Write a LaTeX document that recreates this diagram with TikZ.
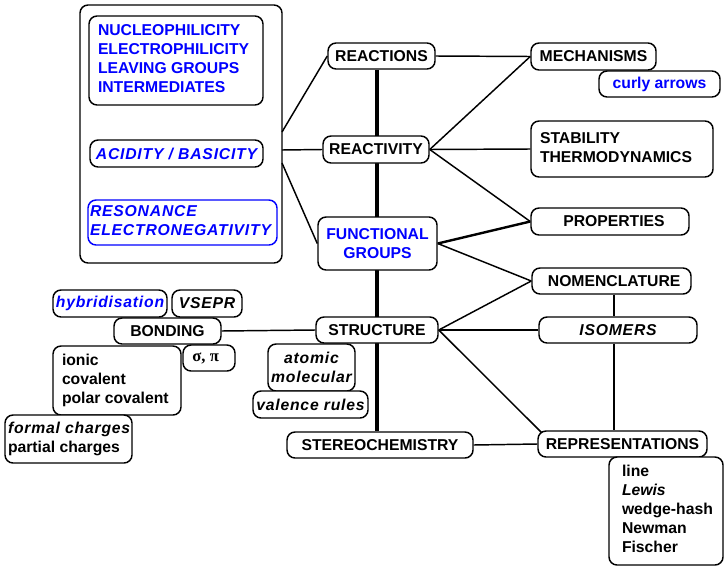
\documentclass[tikz,border=0pt]{standalone}
\usepackage{fontspec}
\setmainfont{Liberation Sans}
\newfontfamily\serifsym{Liberation Serif}
\usetikzlibrary{backgrounds,calc}
\newcommand{\lbox}[2]{\makebox[#1][l]{\begin{tabular}[c]{@{}l@{}}#2\end{tabular}}}
\begin{document}
\begin{tikzpicture}[x=0.75pt,y=-0.75pt,
  every node/.style={font=\fontsize{11.8}{14.3}\selectfont\bfseries},
  bx/.style 2 args={draw, line width=1.1pt, rounded corners=6pt, fill=white,
    minimum width=#1pt, minimum height=#2pt, inner sep=0pt},
  it/.style={font=\fontsize{11.8}{14.3}\selectfont\bfseries\itshape\addfontfeature{LetterSpace=5}},
  bl/.style={text=blue},
  conn/.style={line width=1.1pt},
  spinestyle/.style={line width=3.2pt}]
\useasboundingbox (0,0) rectangle (728,571);

% left group
\node[bx={151.5}{193.5}] (big) at (181,134) {};
\node[bx={130.5}{66.75}, inner xsep=6.75pt, bl] (nuc) at (176,60.5)
  {\lbox{117pt}{NUCLEOPHILICITY\\ELECTROPHILICITY\\LEAVING GROUPS\\INTERMEDIATES}};
\node[bx={129.75}{20.25}, it, bl] (acid) at (176.5,153.5) {ACIDITY / BASICITY};
\node[bx={141.75}{33.75}, draw=blue, inner xsep=1.5pt, it, bl] (reson) at (182.5,222.5)
  {\lbox{138.75pt}{RESONANCE\\ELECTRONEGATIVITY}};

% spine nodes
\node[bx={80.25}{19.5}] (reactions) at (381.5,56) {REACTIONS};
\node[bx={79.5}{20.25}] (reactivity) at (376,149.5) {REACTIVITY};
\node[bx={89.25}{39.75}, align=center, bl] (func) at (377.5,243.5) {FUNCTIONAL\\GROUPS};
\node[bx={91.5}{19.5}] (structure) at (377,330) {STRUCTURE};
\node[bx={139.5}{19.5}] (stereo) at (380,445) {STEREOCHEMISTRY};

% right nodes
\node[bx={93.75}{20.25}] (mech) at (593.5,56.5) {MECHANISMS};
\node[bx={90.75}{19.5}, bl] (curly) at (659.5,84) {curly arrows};
\node[bx={136.5}{42}, inner xsep=6.75pt] (stab) at (622,149)
  {\lbox{123pt}{STABILITY\\THERMODYNAMICS}};
\node[bx={118.5}{20.25}] (prop) at (610,221.5) {\hspace*{6pt}PROPERTIES};
\node[bx={119.25}{19.5}] (nomen) at (611.5,281) {\hspace*{4pt}NOMENCLATURE};
\node[bx={118.5}{19.5}, it] (isomers) at (618,330) {ISOMERS};
\node[bx={126.75}{19.5}] (rep) at (622.5,444) {REPRESENTATIONS};
\node[bx={85.5}{81}, inner xsep=9.75pt] (repbox) at (666,511)
  {\lbox{66pt}{line\\{\itshape Lewis}\\wedge-hash\\Newman\\Fischer}};

% lower left nodes
\node[bx={85.5}{20.25}, it, bl] (hybrid) at (110,303.5) {hybridisation};
\node[bx={52.5}{20.25}, it] (vsepr) at (207,303.5) {VSEPR};
\node[bx={80.25}{19.5}] (bonding) at (167.5,331) {BONDING};
\node[bx={39}{19.5}] (sigma) at (209,358) {\serifsym\bfseries\fontsize{12.5}{14}\selectfont σ, π\hspace*{5pt}};
\node[bx={96}{51.75}, inner xsep=6.75pt] (ionic) at (117,380.5)
  {\lbox{82.5pt}{ionic\\covalent\\polar covalent}};
\node[bx={95.25}{36}, inner xsep=2.25pt] (formal) at (68.5,439)
  {\lbox{90.75pt}{{\itshape\addfontfeature{LetterSpace=5}formal charges}\\partial charges}};
\node[bx={65.25}{35.25}, align=center, it] (atomic) at (311.5,367.5) {atomic\\molecular};
\node[bx={86.25}{20.25}, it] (valence) at (310.5,404.5) {valence rules};

% helper coordinates
\coordinate (spine) at (377,0);
\coordinate (vx) at (614,0);
\coordinate (b1) at (282,132);
\coordinate (b2) at (282,150);
\coordinate (b3) at (282,163);

\begin{scope}[on background layer]
  \draw[spinestyle] (spine |- reactions.south) -- (spine |- stereo.north);
\end{scope}

\draw[conn] (b1) -- (reactions.west);
\draw[conn] (b2) -- (reactivity.west);
\draw[conn] (b3) -- (func.west);
\draw[conn] (reactions.east) -- (mech.west);
\draw[conn] (reactivity.east) -- (mech.west);
\draw[conn] (reactivity.east) -- (stab.west);
\draw[conn] (reactivity.east) -- (prop.west);
\draw[line width=1.8pt] (func.east) -- (prop.west);
\draw[conn] (func.east) -- (nomen.west);
\draw[conn] (structure.east) -- (nomen.west);
\draw[conn] (structure.east) -- (isomers.west);
\draw[conn] (structure.east) -- ($(rep.north west)+(4,2)$);
\draw[conn] (stereo.east) -- (rep.west);
\draw[conn] (bonding.east) -- (structure.west);
\draw[conn] (vx |- nomen.south) -- (vx |- isomers.north);
\draw[conn] (vx |- isomers.south) -- (vx |- rep.north);
\end{tikzpicture}
\end{document}
